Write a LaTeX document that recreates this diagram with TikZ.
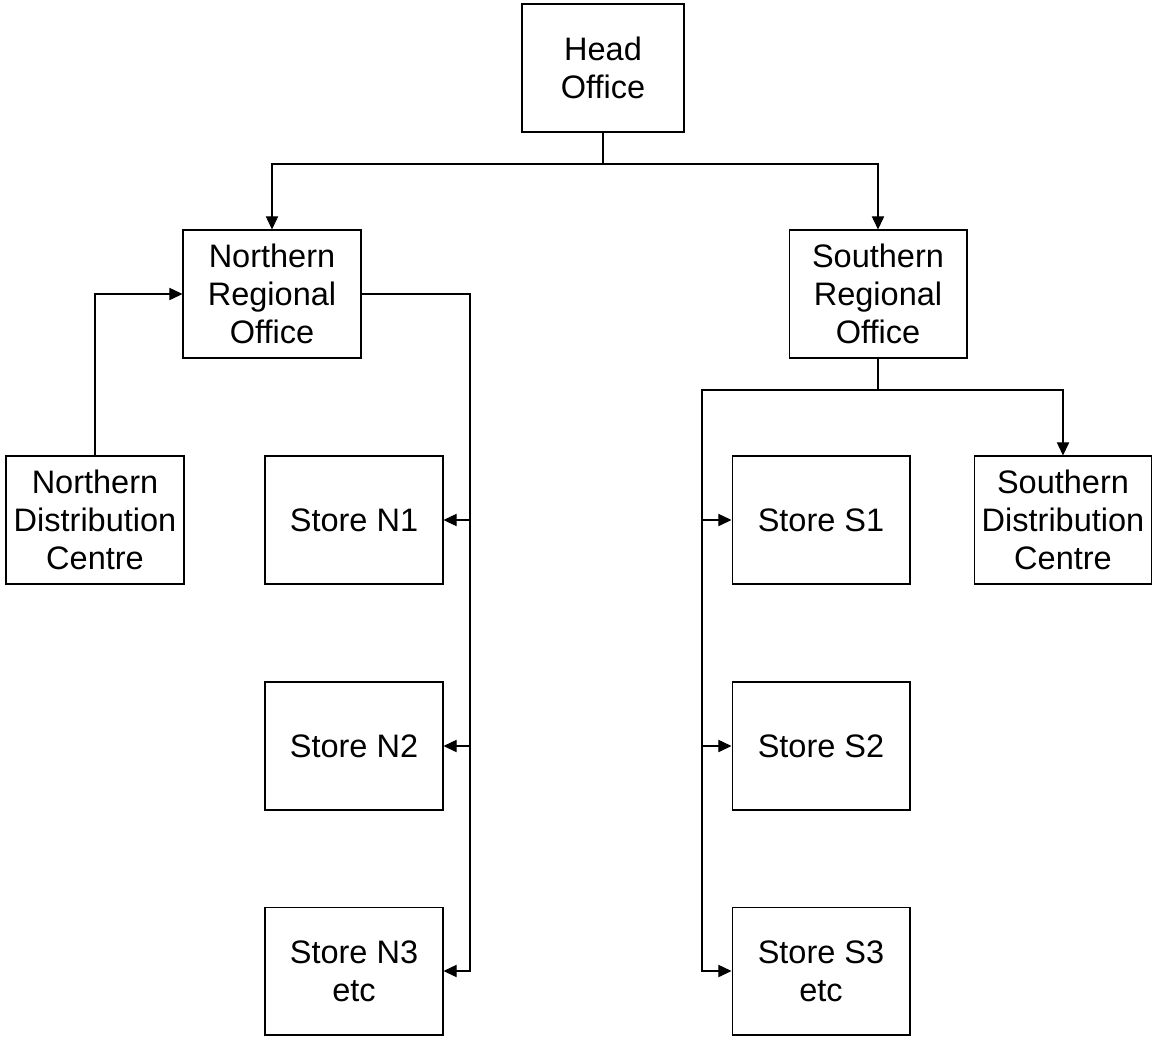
\documentclass[tikz,border=0pt]{standalone}
\usepackage{fontspec}
\setmainfont{Liberation Sans}
\usetikzlibrary{arrows.meta}
\tikzset{
  unit/.style={draw, line width=0.6pt, minimum width=3.56cm, minimum height=2.56cm,
    align=center, inner sep=0pt, font=\fontsize{18.5}{21.5}\selectfont},
  link/.style={line width=0.6pt},
  tip/.style={link, -{Triangle[length=7.5pt,width=7pt]}}
}
\begin{document}
\begin{tikzpicture}[x=0.02cm,y=-0.02cm]
  \useasboundingbox (0,0) rectangle (1152,1038);

  % head office
  \node[unit, minimum width=3.24cm] (head) at (603,68) {Head\\Office};

  % regional offices
  \node[unit] (nro) at (272,294) {Northern\\Regional\\Office};
  \node[unit] (sro) at (878,294) {Southern\\Regional\\Office};

  % distribution centres
  \node[unit] (ndc) at (95,520) {Northern\\Distribution\\Centre};
  \node[unit] (sdc) at (1063,520) {Southern\\Distribution\\Centre};

  % stores
  \node[unit] (n1) at (354,520) {Store N1};
  \node[unit] (n2) at (354,746) {Store N2};
  \node[unit] (n3) at (354,971) {Store N3\\etc};
  \node[unit] (s1) at (821,520) {Store S1};
  \node[unit] (s2) at (821,746) {Store S2};
  \node[unit] (s3) at (821,971) {Store S3\\etc};

  % head office -> regions
  \coordinate (hjoin) at (603,164);
  \draw[link] (head.south) -- (hjoin);
  \draw[tip] (hjoin) -| (nro.north);
  \draw[tip] (hjoin) -| (sro.north);

  % northern region
  \draw[tip] (ndc.north) |- (nro.west);
  \coordinate (nbus) at (470,294);
  \draw[tip] (nro.east) -- (nbus) |- (n3.east);
  \foreach \s in {n1,n2}
    \draw[tip] (nbus |- \s.east) -- (\s.east);

  % southern region
  \coordinate (sjoin) at (878,390);
  \coordinate (sbus) at (702,390);
  \draw[link] (sro.south) -- (sjoin);
  \draw[tip] (sjoin) -| (sdc.north);
  \draw[tip] (sjoin) -- (sbus) |- (s3.west);
  \foreach \s in {s1,s2}
    \draw[tip] (sbus |- \s.west) -- (\s.west);
\end{tikzpicture}
\end{document}
